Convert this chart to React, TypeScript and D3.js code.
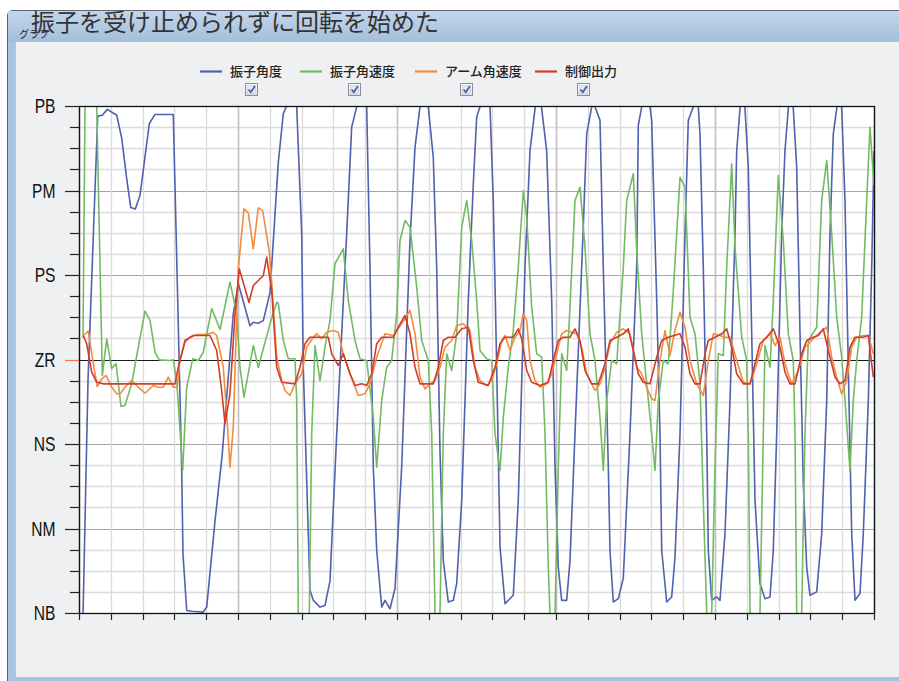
import React from 'react';
import * as d3 from 'd3';

// ---------- data ----------
const titleText = '振子を受け止められずに回転を始めた';
const windowCaption = 'グラフ';
const levelLabels = ['NB', 'NM', 'NS', 'ZR', 'PS', 'PM', 'PB'];
const levelValues = [-3, -2, -1, 0, 1, 2, 3];
const seriesNames = ['振子角度', '振子角速度', 'アーム角速度', '制御出力'];
const seriesColors = ['#5061ad', '#72bb64', '#f28c3e', '#cf3d2c'];

type P = [number, number];

// time (grid step = 10), fuzzy level (NB=-3 … PB=3)
const pendulumAngle: P[] = [
  [1.0, -3.5], [2.83, -0.25], [5.88, 2.88], [7.33, 2.89], [8.9, 2.96], [11.86, 2.89], [13.43, 2.62], [15.0, 2.14],
  [16.26, 1.8], [17.7, 1.78], [19.18, 1.94], [22.1, 2.79], [23.9, 2.9], [29.65, 2.9], [30.9, 0.93], [32.3, -1.31],
  [32.7, -2.3], [33.87, -2.97], [35.44, -2.98], [39.0, -2.99], [40.16, -2.93], [42.77, -1.91], [45.0, -1.14],
  [46.86, -0.25], [48.52, 0.54], [50.1, 0.9], [53.77, 0.4], [54.8, 0.44], [56.38, 0.43], [57.96, 0.46], [60.06, 0.79],
  [62.67, 2.33], [64.25, 2.91], [65.3, 3.0], [66.98, 3.24], [68.46, 2.99], [70.03, 1.49], [70.53, -0.09], [72.64, -2.73],
  [73.68, -2.85], [75.79, -2.93], [77.36, -2.91], [78.93, -2.62], [81.04, -0.88], [84.18, 1.49], [85.75, 2.75],
  [87.33, 2.99], [88.9, 3.24], [90.47, 2.99], [91.5, 1.09], [92.55, -1.27], [93.62, -2.26], [95.19, -2.93],
  [96.23, -2.85], [97.8, -2.95], [99.37, -2.71], [101.48, -1.27], [104.09, 1.41], [105.66, 2.51], [107.23, 2.99],
  [108.5, 3.24], [109.84, 2.99], [111.41, 2.39], [112.48, 1.09], [113.52, -1.08], [114.56, -2.38], [116.13, -2.87],
  [117.7, -2.85], [118.77, -2.65], [120.35, -1.67], [122.42, 0.7], [124.0, 2.08], [125.06, 2.87], [126.1, 2.99],
  [127.7, 3.24], [129.25, 2.99], [130.28, 1.88], [131.35, -0.09], [132.4, -2.22], [133.96, -2.89], [136.57, -2.79],
  [138.14, -1.67], [140.25, 1.09], [141.82, 2.47], [143.4, 2.97], [144.4, 3.24], [145.5, 2.97], [147.07, 2.47],
  [148.65, 0.7], [149.69, -1.27], [150.72, -2.46], [151.79, -2.85], [153.36, -2.85], [154.4, -2.38], [155.97, -0.88],
  [158.58, 1.57], [159.65, 2.67], [161.23, 2.99], [161.7, 3.12], [162.26, 2.99], [163.84, 2.83], [164.87, 1.09],
  [166.45, -1.27], [166.98, -2.26], [168.02, -2.87], [169.59, -2.83], [171.16, -2.59], [173.27, -0.88], [175.38, 1.09],
  [175.88, 2.77], [176.95, 2.99], [178.3, 3.24], [179.56, 2.99], [180.09, 2.83], [181.67, 0.7], [182.7, -0.88],
  [183.24, -2.26], [184.81, -2.87], [186.38, -2.81], [187.42, -2.34], [189.0, -0.88], [190.57, 1.49], [191.6, 2.83],
  [193.18, 2.99], [193.96, 3.18], [194.75, 2.99], [195.28, 2.67], [196.32, 1.09], [197.39, -0.88], [197.9, -2.26],
  [198.96, -2.85], [200.53, -2.81], [201.57, -2.85], [203.14, -2.06], [204.72, -0.49], [206.3, 1.49], [206.82, 2.47],
  [207.86, 2.97], [208.65, 3.18], [209.43, 2.97], [210.47, 2.28], [211.54, 0.31], [212.58, -1.67], [214.15, -2.65],
  [215.72, -2.83], [217.3, -2.81], [218.33, -2.26], [219.4, -0.88], [220.97, 1.49], [222.0, 2.47], [223.05, 2.97],
  [223.84, 3.18], [224.62, 2.97], [225.69, 2.28], [226.73, 0.31], [227.77, -1.47], [228.84, -2.46], [229.87, -2.79],
  [231.98, -2.75], [233.55, -2.06], [235.13, -0.49], [236.16, 1.49], [237.2, 2.67], [238.27, 2.97], [239.06, 3.18],
  [239.84, 2.97], [240.88, 1.88], [241.92, -0.09], [242.99, -2.06], [244.03, -2.85], [245.6, -2.77], [246.64, -2.06],
  [248.21, -0.49], [249.28, 1.09], [250.0, 2.47],
];

const pendulumVelocity: P[] = [
  [1.26, 0.26], [1.89, 3.0], [3.46, 4.5], [5.57, 3.0], [7.33, -0.19], [8.71, 0.245], [10.28, -0.107], [11.64, -0.047],
  [13.21, -0.556], [14.47, -0.544], [16.57, -0.284], [18.65, 0.146], [20.75, 0.572], [22.33, 0.462], [23.9, 0.086],
  [25.25, -0.004], [28.62, -0.012], [29.65, -0.004], [30.72, -0.249], [32.61, -1.31], [33.87, -0.328], [35.75, 0.008],
  [37.52, -0.012], [39.09, 0.086], [41.73, 0.604], [44.34, 0.355], [47.48, 0.915], [49.59, 0.544], [50.63, -0.091],
  [51.89, -0.446], [54.81, 0.166], [56.38, -0.095], [60.06, 0.422], [62.17, 0.678], [62.67, 0.663], [64.25, 0.225],
  [65.82, 0.008], [67.92, 0.008], [68.46, -0.485], [68.96, -3.0], [70.75, -4.5], [72.42, -3.0], [73.18, -0.879],
  [74.21, 0.166], [75.79, -0.249], [77.36, 0.146], [78.93, 0.462], [80.5, 1.133], [83.11, 1.31], [84.69, 0.698],
  [86.79, 0.225], [88.36, 0.008], [90.47, -0.012], [92.55, -0.683], [93.62, -1.275], [95.19, -0.485], [96.76, -0.091],
  [98.33, -0.012], [99.91, 0.541], [100.94, 1.408], [102.52, 1.645], [104.09, 1.566], [106.2, 0.856], [107.77, 0.225],
  [109.84, -0.012], [110.91, -0.876], [111.95, -3.0], [112.74, -4.5], [113.52, -3.0], [114.56, -0.876], [115.63, 0.067],
  [117.2, -0.13], [118.77, 0.304], [120.35, 1.566], [121.92, 1.882], [123.49, 1.408], [125.06, 0.698], [126.1, 0.107],
  [128.21, 0.008], [129.78, -0.012], [130.82, -0.876], [132.39, -1.314], [133.43, -0.683], [135.0, -0.091],
  [136.57, 0.343], [138.14, 1.092], [139.72, 2.0], [140.79, 1.684], [142.36, 0.619], [143.93, 0.067], [145.5, 0.027],
  [146.54, -0.876], [147.58, -2.458], [148.11, -3.0], [148.9, -4.5], [149.69, -3.0], [150.72, -1.275], [151.79, 0.067],
  [153.36, -0.13], [154.4, 0.619], [155.97, 1.882], [157.55, 2.039], [159.12, 1.329], [160.69, 0.304], [162.26, -0.012],
  [163.84, -0.683], [164.87, -1.314], [165.94, -0.485], [167.52, -0.012], [169.09, -0.051], [171.16, 1.092],
  [172.23, 1.882], [174.31, 2.198], [175.38, 1.29], [176.95, 0.304], [178.52, -0.288], [180.09, -0.876], [181.13, -1.314],
  [182.17, -0.485], [183.74, -0.012], [185.31, -0.051], [186.89, 0.817], [189.0, 2.157], [190.57, 2.039], [192.14, 0.501],
  [193.71, 0.304], [195.28, -0.288], [196.32, -1.669], [197.39, -3.0], [198.18, -4.5], [198.96, -3.0], [200.0, -1.275],
  [201.04, 0.067], [202.61, 0.047], [203.68, 1.092], [205.25, 2.316], [206.29, 1.329], [208.4, 0.264], [209.97, -0.012],
  [210.47, -0.876], [211.01, -3.0], [212.58, -4.5], [214.15, -3.0], [215.19, -0.876], [215.72, 0.166], [217.3, -0.091],
  [218.33, 0.698], [219.91, 2.178], [221.48, 1.408], [223.05, 0.304], [224.62, -0.012], [225.16, -0.876], [225.69, -3.0],
  [226.48, -4.5], [227.26, -3.0], [228.3, -0.876], [229.34, 0.225], [231.98, 0.382], [233.55, 1.882], [235.13, 2.355],
  [236.7, 1.491], [238.27, 0.501], [239.84, 0.027], [240.88, -0.485], [242.45, -1.314], [243.49, -0.485], [244.56, -0.012],
  [246.13, 0.501], [247.7, 1.882], [248.74, 2.749], [250.0, 2.059],
];

const armVelocity: P[] = [
  [1.35, 0.284], [2.92, 0.335], [4.5, -0.051], [5.75, -0.32], [7.14, -0.228], [8.49, -0.189], [10.28, -0.328],
  [11.86, -0.406], [12.89, -0.406], [14.47, -0.328], [16.57, -0.249], [18.65, -0.328], [20.75, -0.399], [23.36, -0.308],
  [24.94, -0.328], [26.51, -0.328], [28.08, -0.209], [29.65, -0.328], [30.91, -0.328], [31.76, -0.012], [33.33, 0.205],
  [34.91, 0.264], [37.01, 0.296], [40.16, 0.296], [42.23, 0.323], [43.3, 0.284], [45.38, -0.091], [46.45, -0.643],
  [47.48, -1.275], [48.52, -0.801], [49.59, 0.541], [50.09, 1.073], [51.89, 1.783], [53.24, 1.736], [54.81, 1.31],
  [56.38, 1.795], [57.77, 1.763], [59.02, 1.467], [59.84, 1.27], [60.6, 0.915], [62.17, 0.027], [63.74, -0.249],
  [64.78, -0.367], [66.35, -0.426], [67.92, -0.288], [70.03, -0.169], [71.6, 0.146], [73.68, 0.264], [74.75, 0.304],
  [76.32, 0.245], [77.89, 0.323], [79.97, 0.343], [81.54, 0.323], [83.11, 0.067], [85.22, -0.169], [87.83, -0.426],
  [89.94, -0.406], [91.51, -0.288], [93.62, 0.027], [96.23, 0.304], [98.84, 0.284], [101.48, 0.422], [104.09, 0.58],
  [105.66, 0.304], [107.23, -0.209], [108.81, -0.347], [110.38, -0.288], [111.95, -0.249], [113.52, -0.091],
  [115.09, 0.146], [117.2, 0.225], [118.77, 0.402], [120.85, 0.422], [122.96, 0.343], [124.53, -0.091], [126.1, -0.249],
  [128.21, -0.308], [129.78, -0.249], [131.35, -0.051], [132.92, 0.225], [133.96, 0.284], [135.53, 0.107],
  [137.11, 0.264], [138.68, 0.343], [139.72, 0.541], [140.79, 0.462], [141.82, -0.012], [143.4, -0.249],
  [144.97, -0.328], [147.08, -0.288], [148.65, -0.169], [150.22, 0.067], [151.79, 0.304], [153.36, 0.343],
  [154.94, 0.323], [156.51, 0.304], [158.08, 0.146], [159.65, -0.169], [162.26, -0.367], [163.84, -0.288],
  [165.41, -0.091], [166.98, 0.186], [169.09, 0.323], [171.16, 0.363], [173.27, 0.304], [175.38, -0.091],
  [176.95, -0.169], [178.52, -0.328], [180.09, -0.465], [181.13, -0.485], [182.7, -0.012], [184.28, 0.343],
  [185.85, 0.047], [187.42, 0.343], [189.0, 0.56], [190.57, 0.382], [192.14, -0.012], [194.25, -0.288], [196.32, -0.426],
  [197.89, -0.012], [199.47, 0.304], [201.57, 0.284], [203.14, 0.264], [204.72, 0.264], [206.82, -0.012],
  [208.9, -0.269], [211.01, -0.288], [213.11, -0.051], [215.19, 0.225], [217.3, 0.304], [218.87, 0.166], [220.44, 0.264],
  [222.01, -0.051], [224.12, -0.288], [226.2, -0.13], [228.3, 0.146], [230.41, 0.225], [232.48, 0.304], [235.13, 0.382],
  [236.7, 0.027], [238.27, -0.209], [239.84, -0.406], [241.42, -0.249], [242.99, 0.146], [244.56, 0.264],
  [246.64, 0.284], [248.21, 0.284], [249.78, 0.067],
];

const controlOutput: P[] = [
  [1.35, 0.284], [2.42, 0.186], [3.99, -0.15], [5.57, -0.269], [7.64, -0.288], [30.19, -0.288], [31.23, -0.091],
  [33.33, 0.225], [35.94, 0.284], [41.19, 0.284], [43.3, 0.107], [44.87, -0.367], [45.91, -0.761], [47.48, -0.406],
  [49.06, 0.541], [50.41, 1.073], [53.46, 0.675], [54.81, 0.876], [57.96, 0.994], [59.02, 1.211], [60.6, 0.817],
  [62.17, -0.091], [63.74, -0.269], [67.92, -0.288], [69.5, -0.091], [71.07, 0.186], [72.64, 0.264], [78.4, 0.264],
  [79.47, 0.067], [81.54, -0.071], [83.11, 0.067], [85.22, -0.169], [86.79, -0.308], [88.9, -0.288], [90.47, -0.308],
  [92.04, -0.169], [93.62, 0.186], [95.19, 0.264], [98.84, 0.264], [100.41, 0.382], [102.52, 0.521], [104.09, 0.304],
  [105.66, -0.091], [107.23, -0.288], [111.42, -0.288], [112.99, -0.091], [114.56, 0.225], [116.13, 0.264],
  [118.24, 0.264], [120.35, 0.363], [122.42, 0.382], [124.0, -0.012], [125.57, -0.269], [128.71, -0.308],
  [130.82, -0.091], [132.39, 0.186], [133.96, 0.264], [136.57, 0.264], [138.14, 0.363], [139.21, 0.245],
  [140.79, -0.13], [142.36, -0.269], [144.97, -0.308], [147.58, -0.269], [149.15, -0.012], [150.72, 0.225],
  [152.3, 0.264], [154.4, 0.264], [155.97, 0.363], [157.55, 0.225], [159.12, -0.13], [161.23, -0.288], [163.3, -0.288],
  [165.41, -0.051], [166.98, 0.225], [169.09, 0.264], [171.16, 0.304], [172.74, 0.363], [174.31, 0.107],
  [175.88, -0.169], [177.45, -0.269], [179.56, -0.288], [181.67, 0.027], [183.24, 0.225], [185.31, 0.264],
  [189.0, 0.304], [190.57, 0.146], [192.14, -0.169], [193.71, -0.288], [195.28, -0.288], [196.86, 0.067],
  [197.89, 0.225], [200.0, 0.264], [202.11, 0.304], [203.68, 0.363], [205.25, 0.146], [206.82, -0.169],
  [208.9, -0.288], [211.01, -0.288], [212.58, -0.051], [214.15, 0.186], [216.26, 0.264], [218.33, 0.363],
  [220.44, 0.146], [222.01, -0.15], [223.58, -0.288], [225.16, -0.288], [227.26, 0.067], [228.84, 0.225],
  [230.91, 0.264], [232.48, 0.284], [234.06, 0.363], [235.63, 0.107], [237.74, -0.209], [239.31, -0.288],
  [240.88, -0.249], [242.45, 0.146], [244.03, 0.264], [246.64, 0.264], [248.21, 0.284], [249.78, -0.209],
];

const seriesData: P[][] = [pendulumAngle, pendulumVelocity, armVelocity, controlOutput];

// ---------- layout ----------
const W = 899;
const H = 681;
const PL = 79, PR = 874, PT = 106, PB = 613;
const legendLineX = [200, 300, 415, 535];
const legendBoxDx = [15, 18, 15, 12];

const CJK = "'Noto Sans CJK JP', 'Noto Sans CJK SC', sans-serif";
const LABEL_FONT = "'Liberation Sans', Arial, sans-serif";

export default function App() {
  const x = d3.scaleLinear().domain([0, 250]).range([PL, PR]);
  const y = d3.scaleLinear().domain([-3, 3]).range([PB, PT]);
  const xTicks = d3.range(0, 251, 10);
  const yMinor = d3.range(-12, 13).map((i) => i / 4);
  const line = d3
    .line<P>()
    .x((d) => x(d[0]))
    .y((d) => y(d[1]));

  return (
    <div style={{ position: 'absolute', left: 0, top: 0, width: W, height: H }}>
      <svg width={W} height={H} style={{ display: 'block' }}>
        <defs>
          <linearGradient id="tb" x1="0" y1="0" x2="0" y2="1">
            <stop offset="0" stopColor="#c3d6ea" />
            <stop offset="1" stopColor="#a3bedb" />
          </linearGradient>
          <linearGradient id="cb" x1="0" y1="0" x2="0" y2="1">
            <stop offset="0" stopColor="#ffffff" />
            <stop offset="1" stopColor="#dcdde0" />
          </linearGradient>
          <clipPath id="plotClip">
            <rect x={PL} y={PT} width={PR - PL} height={PB - PT} />
          </clipPath>
        </defs>

        {/* window chrome */}
        <rect x={0} y={0} width={W} height={H} fill="#ffffff" />
        <path d={`M7.5,${H} L7.5,16 Q7.5,10.5 13,10.5 L${W},10.5`} fill="#a9c4e0" stroke="#5b6470" strokeWidth={1} />
        <rect x={8} y={11} width={W - 8} height={31} fill="url(#tb)" />
        <rect x={8} y={42} width={7} height={H - 42} fill="#a9c4e0" />
        <rect x={15} y={42} width={W - 15} height={635} fill="#eef0f2" />
        <line x1={15.5} y1={42} x2={15.5} y2={677} stroke="#b9c7d6" />
        <rect x={8} y={677} width={W - 8} height={4} fill="#a9c4e0" />

        <text x={19} y={38} fontFamily={CJK} fontSize={10} fill="#2a2a2a">{windowCaption}</text>
        <text x={31} y={31} fontFamily={CJK} fontSize={24} fill="#333333">{titleText}</text>

        {/* legend */}
        {seriesNames.map((name, i) => {
          const lx = legendLineX[i];
          const bx = lx + 30 + legendBoxDx[i];
          return (
            <g key={name}>
              <line x1={lx} x2={lx + 22} y1={71.5} y2={71.5} stroke={seriesColors[i]} strokeWidth={2.2} />
              <text x={lx + 30} y={76} fontFamily={CJK} fontSize={13} fontWeight={500} fill="#222">{name}</text>
              <rect x={bx + 0.5} y={83.5} width={12} height={12} fill="url(#cb)" stroke="#8e8f94" />
              <rect x={bx + 2.5} y={85.5} width={8} height={8} fill="#e4eaf2" stroke="#c5ccd6" strokeWidth={0.6} />
              <path d={`M${bx + 3.5},${89.5} L${bx + 5.8},${92.2} L${bx + 10},${86}`} fill="none" stroke="#4863a6" strokeWidth={1.8} />
            </g>
          );
        })}

        {/* plot background */}
        <rect x={PL} y={PT} width={PR - PL} height={PB - PT} fill="#ffffff" />

        {/* grid */}
        {yMinor.map((v) => {
          const major = Number.isInteger(v);
          if (v === 0) return null;
          return (
            <line key={'h' + v} x1={PL} x2={PR} y1={Math.round(y(v)) + 0.5} y2={Math.round(y(v)) + 0.5}
              stroke={major ? '#a9a2a2' : '#e0dbdb'} strokeWidth={major ? 1.2 : 1.5} />
          );
        })}
        {xTicks.map((t) => (
          <line key={'v' + t} x1={Math.round(x(t)) + 0.5} x2={Math.round(x(t)) + 0.5} y1={PT} y2={PB}
            stroke={t % 50 === 0 ? '#c4c0c0' : '#dedada'} strokeWidth={t % 50 === 0 ? 1.6 : 1.3} />
        ))}
        <line x1={PL} x2={PR} y1={Math.round(y(0)) + 0.5} y2={Math.round(y(0)) + 0.5} stroke="#1a1a1a" strokeWidth={1.2} />

        {/* series */}
        <g clipPath="url(#plotClip)">
          {seriesData.map((data, i) => (
            <path key={i} d={line(data) || ''} fill="none" stroke={seriesColors[i]} strokeWidth={1.6}
              strokeLinejoin="round" />
          ))}
        </g>

        {/* frame */}
        <rect x={PL + 0.5} y={PT + 0.5} width={PR - PL} height={PB - PT} fill="none" stroke="#111" strokeWidth={1.3} />

        {/* y ticks */}
        {yMinor.map((v) => {
          const major = Number.isInteger(v);
          const yy = Math.round(y(v)) + 0.5;
          return (
            <line key={'yt' + v} x1={major ? 65 : 70} x2={PL} y1={yy} y2={yy}
              stroke={v === 0 ? '#f07a4a' : '#222'} strokeWidth={1.2} />
          );
        })}
        {levelValues.map((v, i) => (
          <g key={'yl' + v} transform={`translate(55.5,${y(v)}) scale(0.8,1)`}>
            <text x={0} y={0} dy="0.36em" textAnchor="end" fontFamily={LABEL_FONT}
              fontSize={19.5} fill="#111">{levelLabels[i]}</text>
          </g>
        ))}

        {/* x ticks */}
        {xTicks.map((t) => (
          <line key={'xt' + t} x1={Math.round(x(t)) + 0.5} x2={Math.round(x(t)) + 0.5} y1={PB} y2={PB + 7}
            stroke="#222" strokeWidth={1.2} />
        ))}
      </svg>
    </div>
  );
}
